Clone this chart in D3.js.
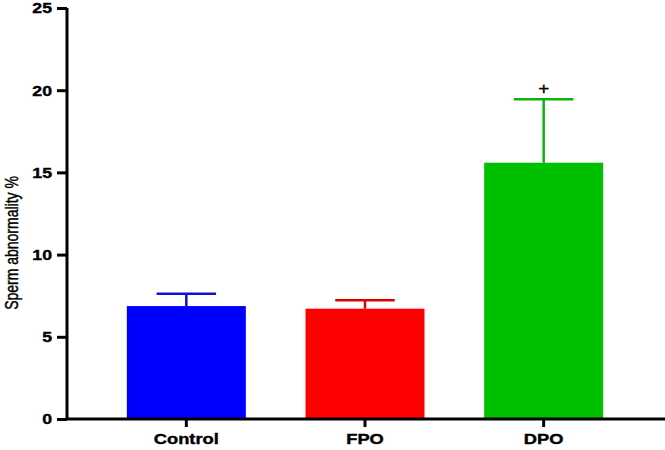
<!DOCTYPE html>
<html><head><meta charset="utf-8">
<script src="https://cdn.jsdelivr.net/npm/d3@7"></script>
<style>body{margin:0;background:#fff}svg{display:block}</style>
</head><body>
<script>
const categories = ["Control", "FPO", "DPO"];
const means = [6.87, 6.71, 15.59];
const errors = [0.75, 0.51, 3.86];
const colors = ["#0000ff", "#ff0000", "#00c000"];
const errColors = ["#1010d0", "#e00000", "#10b010"];
const marks = ["", "", "+"];
const yTicks = [0, 5, 10, 15, 20, 25];

const W = 665, H = 450;
const FONT = "Liberation Sans, Arial, sans-serif";
const SX = 1.18;
const svg = d3.select("body").append("svg").attr("width", W).attr("height", H);

const y = d3.scaleLinear().domain([0, 25]).range([419, 8]);
const x = d3.scaleBand().domain(categories).range([97, 633]).paddingInner(0.334).paddingOuter(0.167);

const g = svg.append("g");
g.selectAll("rect.bar").data(categories).join("rect")
  .attr("x", d => x(d)).attr("width", x.bandwidth())
  .attr("y", (d, i) => y(means[i])).attr("height", (d, i) => y(0) - y(means[i]))
  .attr("fill", (d, i) => colors[i]);
categories.forEach((c, i) => {
  const cx = x(c) + x.bandwidth() / 2;
  g.append("line").attr("x1", cx).attr("x2", cx).attr("y1", y(means[i])).attr("y2", y(means[i] + errors[i]))
    .attr("stroke", errColors[i]).attr("stroke-width", 2.5);
  g.append("line").attr("x1", cx - x.bandwidth() / 4).attr("x2", cx + x.bandwidth() / 4)
    .attr("y1", y(means[i] + errors[i])).attr("y2", y(means[i] + errors[i]))
    .attr("stroke", errColors[i]).attr("stroke-width", 2.5);
  if (marks[i]) {
    g.append("text").attr("transform", `translate(${cx},${y(means[i] + errors[i]) - 5}) scale(${SX},1)`)
      .attr("text-anchor", "middle").attr("font-family", FONT)
      .attr("font-size", 16).attr("stroke", "#000").attr("stroke-width", 0.3).text(marks[i]);
  }
});

// y axis
const yAxis = svg.append("g").attr("transform", "translate(67,0)")
  .call(d3.axisLeft(y).tickValues(yTicks).tickSize(10).tickPadding(4).tickSizeOuter(0));
yAxis.select(".domain").attr("stroke", "#000").attr("stroke-width", 3).attr("d", `M0,${y(25)}V${y(0)}`);
yAxis.selectAll(".tick line").attr("stroke", "#000").attr("stroke-width", 3);
yAxis.selectAll(".tick text").attr("x", 0).attr("transform", `translate(-15,0) scale(${SX},1)`)
  .attr("font-family", FONT).attr("font-size", 15).attr("font-weight", "bold").attr("fill", "#000")
  .attr("stroke", "#000").attr("stroke-width", 0.4);

// x axis
const xAxis = svg.append("g").attr("transform", `translate(0,${y(0)})`)
  .call(d3.axisBottom(x).tickSize(8).tickPadding(6).tickSizeOuter(0));
xAxis.select(".domain").attr("stroke", "#000").attr("stroke-width", 3).attr("d", `M66,0H665`);
xAxis.selectAll(".tick line").attr("stroke", "#000").attr("stroke-width", 3);
xAxis.selectAll(".tick text").attr("transform", `scale(${SX},1)`)
  .attr("font-family", FONT).attr("font-size", 15.5).attr("font-weight", "bold").attr("fill", "#000")
  .attr("stroke", "#000").attr("stroke-width", 0.4);

// y label
svg.append("text").attr("transform", `translate(18,243) rotate(-90) scale(1,1.25)`)
  .attr("text-anchor", "middle").attr("font-family", FONT)
  .attr("font-size", 14).attr("fill", "#000").attr("stroke", "#000").attr("stroke-width", 0.35)
  .text("Sperm abnormality %");
</script>
</body></html>
